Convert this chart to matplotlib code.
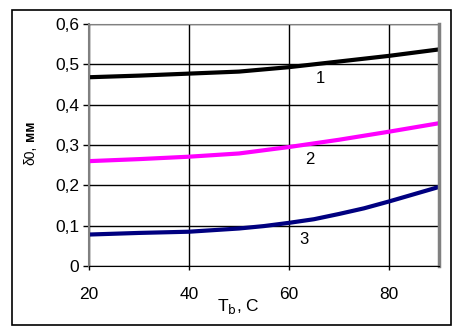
import matplotlib.pyplot as plt
from matplotlib.patches import Rectangle

plt.rcParams['font.family'] = ['Liberation Sans', 'DejaVu Sans']

# Temperature grid, C
t_main = [20, 30, 40, 50, 60, 70, 80, 90]
t_fine = [20, 30, 40, 50, 55, 60, 65, 70, 75, 80, 85, 90]

# delta_0, mm for the three curves
delta_1 = [0.468, 0.472, 0.477, 0.482, 0.493, 0.507, 0.521, 0.537]
delta_2 = [0.260, 0.265, 0.271, 0.279, 0.295, 0.313, 0.333, 0.354]
delta_3 = [0.078, 0.082, 0.085, 0.093, 0.099, 0.107, 0.116, 0.129, 0.143, 0.160, 0.178, 0.196]

curve_labels = ["1", "2", "3"]
label_pos = [(66.2, 0.464), (64.2, 0.263), (63.0, 0.065)]

x_ticks = [20, 40, 60, 80]
y_ticks = [0, 0.1, 0.2, 0.3, 0.4, 0.5, 0.6]

W, H = 466, 336
fig = plt.figure(figsize=(W / 100, H / 100), dpi=100)
fig.patch.set_facecolor("white")

# outer chart frame
fig.patches.append(Rectangle((12 / W, 1 - 325 / H), 439 / W, 315 / H,
                             transform=fig.transFigure, fill=False,
                             edgecolor="black", linewidth=1.2))

ax = fig.add_axes([89 / W, 1 - 266 / H, 350 / W, 242 / H])
ax.plot(t_main, delta_1, color="black", linewidth=3)
ax.plot(t_main, delta_2, color="#ff00ff", linewidth=3)
ax.plot(t_fine, delta_3, color="#000080", linewidth=3)

for txt, (x, y) in zip(curve_labels, label_pos):
    ax.text(x, y, txt, fontsize=12, ha="center", va="center")

ax.set_xlim(20, 90)
ax.set_ylim(0, 0.6)
ax.set_xticks(x_ticks)
ax.set_yticks(y_ticks)
ax.set_yticklabels([f"{v:g}".replace(".", ",") for v in y_ticks])
ax.tick_params(axis="y", labelsize=12.5, length=4, width=1, color="black", pad=3)
ax.tick_params(axis="x", labelsize=12.5, length=3, width=1, color="black", pad=12)
ax.grid(True, color="black", linewidth=1)

for side in ["left", "top", "right"]:
    ax.spines[side].set_color("gray")
ax.spines["right"].set_linewidth(2.5)
ax.spines["left"].set_linewidth(1.5)
ax.spines["bottom"].set_color("black")

fig.text(238 / W, 1 - 306 / H, r"T$_{\mathrm{b}}$, C", fontsize=12.5, ha="center", va="center")
fig.text(30 / W, 1 - 155 / H, "δ0,", fontsize=10, rotation=90, ha="center", va="center")
fig.text(30 / W, 1 - 131 / H, "мм", fontsize=10, fontweight="bold", rotation=90,
         ha="center", va="center")

fig.savefig("out.png", dpi=100)
